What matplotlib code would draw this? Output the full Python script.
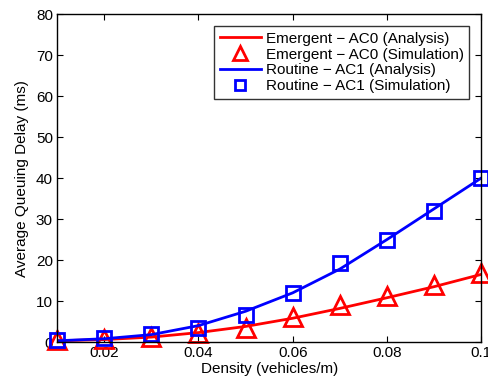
import matplotlib
matplotlib.use("Agg")
import matplotlib.pyplot as plt
from matplotlib.ticker import FixedLocator, FixedFormatter

plt.rcParams['font.family'] = ['Liberation Sans', 'DejaVu Sans']

density = [0.01, 0.02, 0.03, 0.04, 0.05, 0.06, 0.07, 0.08, 0.09, 0.1]
ac0_analysis = [0.3, 0.6, 1.2, 2.3, 3.8, 5.8, 8.2, 10.8, 13.5, 16.5]
ac0_simulation = [0.5, 0.7, 1.3, 2.3, 3.5, 6.1, 9.0, 11.3, 13.8, 16.8]
ac1_analysis = [0.3, 0.8, 1.8, 4.0, 7.5, 12.0, 17.8, 25.0, 32.5, 40.0]
ac1_simulation = [0.5, 1.0, 2.0, 3.5, 6.6, 12.0, 19.4, 25.0, 32.0, 40.0]
xticks = [0.02, 0.04, 0.06, 0.08, 0.1]
xticklabels = ["0.02", "0.04", "0.06", "0.08", "0.1"]
yticks = [0, 10, 20, 30, 40, 50, 60, 70, 80]

fig = plt.figure(figsize=(4.88, 3.83), dpi=100)
ax = fig.add_axes([0.117, 0.107, 0.869, 0.856])

ax.plot(density, ac0_analysis, color='red', lw=2, label='Emergent \u2212 AC0 (Analysis)')
ax.plot(density, ac0_simulation, ls='none', marker='^', ms=13, mfc='none', mec='red', mew=2,
        label='Emergent \u2212 AC0 (Simulation)', clip_on=False)
ax.plot(density, ac1_analysis, color='blue', lw=2, label='Routine \u2212 AC1 (Analysis)')
ax.plot(density, ac1_simulation, ls='none', marker='s', ms=10, mfc='none', mec='blue', mew=2,
        label='Routine \u2212 AC1 (Simulation)', clip_on=False)

ax.set_xlim(0.01, 0.1)
ax.set_ylim(0, 80)
ax.xaxis.set_major_locator(FixedLocator(xticks))
ax.xaxis.set_major_formatter(FixedFormatter(xticklabels))
ax.set_yticks(yticks)
ax.tick_params(direction='in', top=True, right=True, labelsize=11, length=4, width=0.8, pad=3)
for s in ax.spines.values():
    s.set_linewidth(1.0)
ax.set_xlabel('Density (vehicles/m)', fontsize=11, labelpad=1)
ax.set_ylabel('Average Queuing Delay (ms)', fontsize=11, labelpad=5)

leg = ax.legend(loc='upper right', fontsize=11, frameon=True, fancybox=False,
                edgecolor='black', borderpad=0.35, labelspacing=0.12, handlelength=2.7,
                handletextpad=0.3, borderaxespad=0.8, markerscale=0.75)
leg.get_frame().set_linewidth(1.0)

fig.savefig('out.png', dpi=100)
